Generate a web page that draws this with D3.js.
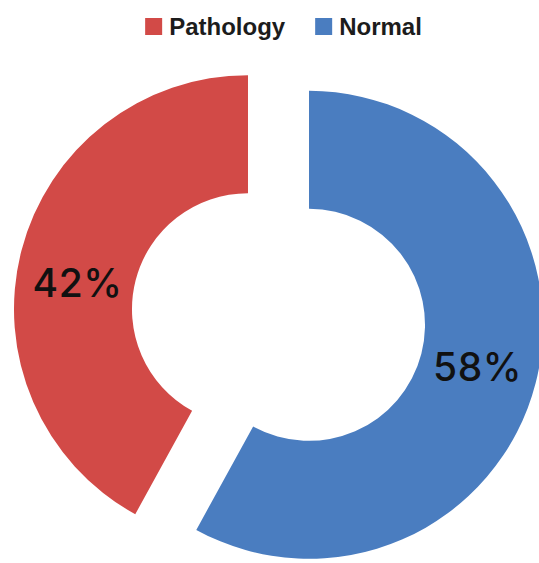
<!DOCTYPE html>
<html>
<head>
<meta charset="utf-8">
<script src="https://cdn.jsdelivr.net/npm/d3@7"></script>
<style>
  html, body { margin: 0; padding: 0; background: #ffffff; }
  svg { display: block; }
</style>
</head>
<body>
<svg id="chart" width="539" height="563"></svg>
<script>
// Share of cases by finding
const categories = ["Pathology", "Normal"];
const values = [42, 58];
const colors = ["#D24A47", "#4A7DC0"];

const width = 539, height = 563;
const cx = 278.5, cy = 317;
const outerR = 234, innerR = 116;
const explode = 31.5;

const svg = d3.select("#chart");

const total = d3.sum(values);
// Normal begins at 12 o'clock and runs clockwise; Pathology fills the rest.
const start = -2 * Math.PI * values[0] / total;
const pie = d3.pie()
  .sort(null)
  .value(d => d.value)
  .startAngle(start)
  .endAngle(start + 2 * Math.PI);

const data = categories.map((c, i) => ({ name: c, value: values[i], color: colors[i] }));
const arcs = pie(data);

const arc = d3.arc().innerRadius(innerR).outerRadius(outerR);

const g = svg.append("g").attr("transform", `translate(${cx},${cy})`);

// Each slice is pushed out along its bisector
const offset = d => {
  const mid = (d.startAngle + d.endAngle) / 2;
  return [explode * Math.sin(mid), -explode * Math.cos(mid)];
};

const slice = g.selectAll("g.slice")
  .data(arcs)
  .join("g")
  .attr("class", "slice")
  .attr("transform", d => { const [x, y] = offset(d); return `translate(${x},${y})`; });

slice.append("path")
  .attr("d", arc)
  .attr("fill", d => d.data.color);

// Percentage labels
const labelDy = { Pathology: 17, Normal: -2 };
slice.append("text")
  .attr("x", d => arc.centroid(d)[0] - 1)
  .attr("y", d => arc.centroid(d)[1] + labelDy[d.data.name])
  .attr("text-anchor", "middle")
  .attr("dominant-baseline", "central")
  .attr("font-family", "Inter, 'DejaVu Sans', sans-serif")
  .attr("font-weight", 500)
  .attr("font-size", 39)
  .attr("letter-spacing", 0.5)
  .attr("fill", "#111111")
  .text(d => Math.round(d.value / total * 100) + "%");

// Legend
const legend = svg.append("g").attr("class", "legend");
const sw = 17, gapText = 7, gapItem = 30;
let lx = 0;
categories.forEach((c, i) => {
  const item = legend.append("g").attr("transform", `translate(${lx},0)`);
  item.append("rect")
    .attr("x", 0).attr("y", 18)
    .attr("width", sw).attr("height", sw)
    .attr("fill", colors[i]);
  const t = item.append("text")
    .attr("x", sw + gapText)
    .attr("y", 34.5)
    .attr("font-family", "'Liberation Sans', Arial, sans-serif")
    .attr("font-weight", "bold")
    .attr("font-size", 24)
    .attr("fill", "#1c1c1c")
    .text(c);
  lx += sw + gapText + t.node().getComputedTextLength() + gapItem;
});
const legendW = lx - gapItem;
legend.attr("transform", `translate(${283.5 - legendW / 2},0)`);
</script>
</body>
</html>
